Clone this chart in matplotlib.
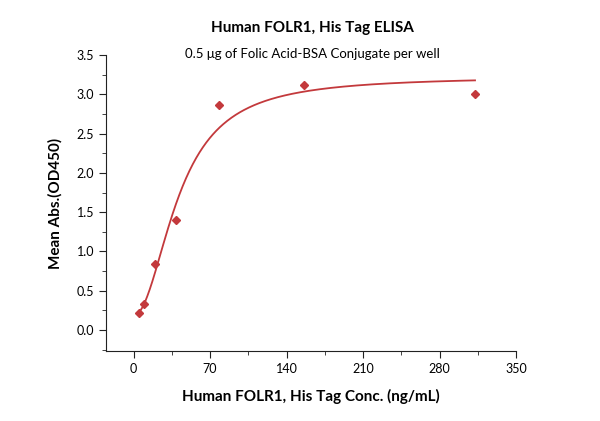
import numpy as np
import matplotlib
matplotlib.use("Agg")
import matplotlib.pyplot as plt
from matplotlib.ticker import MultipleLocator

# --- data ---
conc = [4.88, 9.77, 19.5, 39.0, 78.0, 156.0, 312.5]   # ng/mL
od450 = [0.21, 0.33, 0.84, 1.40, 2.86, 3.12, 3.00]
x_ticks = [0, 70, 140, 210, 280, 350]
y_ticks = [0.0, 0.5, 1.0, 1.5, 2.0, 2.5, 3.0, 3.5]

title = "Human FOLR1, His Tag ELISA"
subtitle = "0.5 \u03bcg of Folic Acid-BSA Conjugate per well"
xlabel = "Human FOLR1, His Tag Conc. (ng/mL)"
ylabel = "Mean Abs.(OD450)"

RED = "#c3393c"
plt.rcParams['font.family'] = ['Lato', 'DejaVu Sans']


def four_pl(p, x):
    a, d, c, b = p
    return d + (a - d) / (1 + np.abs(x / c) ** b)


def fit_4pl(x, y):
    # weighted (1/y) Levenberg-Marquardt fit, numpy only
    p = np.array([0.1, 3.1, 40.0, 1.5])
    sw = np.sqrt(1 / y)
    lam = 1e-2
    for _ in range(1500):
        r = (y - four_pl(p, x)) * sw
        J = np.zeros((len(x), len(p)))
        for i in range(len(p)):
            dp = np.zeros(len(p))
            dp[i] = 1e-6 * max(abs(p[i]), 1e-3)
            J[:, i] = (four_pl(p + dp, x) - four_pl(p, x)) / dp[i] * sw
        A = J.T @ J
        step = np.linalg.solve(A + lam * np.diag(np.diag(A) + 1e-12), J.T @ r)
        p_new = p + step
        with np.errstate(all='ignore'):
            s_new = np.sum(((y - four_pl(p_new, x)) * sw) ** 2)
        if np.isfinite(s_new) and s_new < np.sum(r ** 2):
            p = p_new
            lam *= 0.5
        else:
            lam *= 3
    return p


x = np.array(conc)
y = np.array(od450)
params = fit_4pl(x, y)
xs = np.linspace(x.min(), x.max(), 400)

fig = plt.figure(figsize=(6, 4.21), dpi=100)
ax = fig.add_axes([0.177, 0.166, 0.683, 0.703])

ax.plot(xs, four_pl(params, xs), color=RED, lw=1.3)
ax.plot(x, y, 'D', color=RED, ms=4.5, mec=RED)

ax.set_xlim(-25, 350)
ax.set_ylim(-0.27, 3.5)
ax.set_xticks(x_ticks)
ax.set_yticks(y_ticks)
ax.set_yticklabels([f"{v:.1f}" for v in y_ticks])
ax.xaxis.set_minor_locator(MultipleLocator(35))
ax.yaxis.set_minor_locator(MultipleLocator(0.25))
ax.tick_params(which='both', direction='out', labelsize=9, color='#222222')
ax.tick_params(which='major', length=5)
ax.tick_params(which='minor', length=3)
for s in ['top', 'right']:
    ax.spines[s].set_visible(False)
for s in ['left', 'bottom']:
    ax.spines[s].set_color('#222222')

ax.set_xlabel(xlabel, fontsize=11, fontweight='bold', labelpad=10)
ax.set_ylabel(ylabel, fontsize=11, fontweight='bold', labelpad=10)

fig.text(0.52, 0.933, title, ha='center', va='center', fontsize=11, fontweight='bold')
fig.text(0.52, 0.871, subtitle, ha='center', va='center', fontsize=9.5)

fig.savefig("out.png", dpi=100)
